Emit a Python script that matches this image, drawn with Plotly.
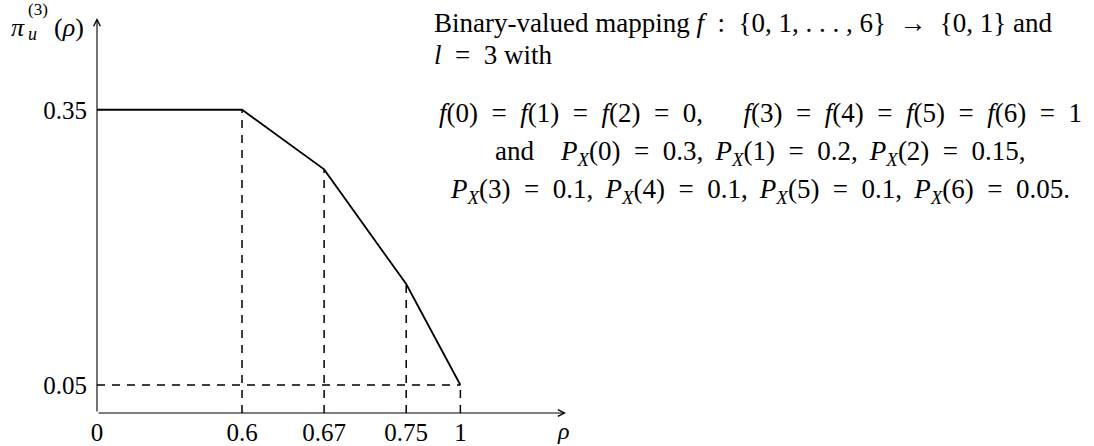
import plotly.graph_objects as go

# ---- data -------------------------------------------------------------
rho_ticktext = ["0", "0.6", "0.67", "0.75", "1"]          # x tick labels
rho_coord = [0.0, 2.65, 4.15, 5.65, 6.64]                 # diagram x-coordinate of each breakpoint (schematic axis)
pi_values = [0.35, 0.35, 0.285, 0.16, 0.05]               # pi_u^(3)(rho) at each breakpoint
y_tickvals = [0.35, 0.05]
y_ticktext = ["0.35", "0.05"]

X_MAX = 8.57          # end of the x arrow (diagram units)
Y_MIN = 0.0195        # level of the rho axis
Y_MAX = 0.45          # end of the y arrow

FONT = "Liberation Serif"
W, H = 1094, 446
# plot area in page pixels: x 97..566, y 18..413
L, T = 97, 18
R = W - 566
B = H - 413
PW, PH = 566 - 97, 413 - 18


def px(p):
    return (p - L) / PW


def py(p):
    return (413 - p) / PH


fig = go.Figure()

# dashed guide lines (vertical drops + horizontal level at the last value)
gx, gy = [], []
for xc, yv in zip(rho_coord[1:], pi_values[1:]):
    gx += [xc, xc, None]
    gy += [Y_MIN, yv, None]
gx += [rho_coord[0], rho_coord[-1]]
gy += [pi_values[-1], pi_values[-1]]
fig.add_trace(go.Scatter(x=gx, y=gy, mode="lines",
                         line=dict(color="black", width=1.5, dash="8px,7px"),
                         hoverinfo="skip", showlegend=False, cliponaxis=False))

# the piecewise-linear curve
fig.add_trace(go.Scatter(x=rho_coord, y=pi_values, mode="lines",
                         line=dict(color="black", width=1.8),
                         showlegend=False, cliponaxis=False))

# axes with arrows
arrow_common = dict(showarrow=True, arrowhead=5, arrowsize=1.2, arrowwidth=1.1,
                    arrowcolor="black", axref="x", ayref="y", xref="x", yref="y",
                    text="", standoff=0)
fig.add_annotation(x=X_MAX, y=Y_MIN, ax=0, ay=Y_MIN, **arrow_common)
fig.add_annotation(x=0, y=Y_MAX, ax=0, ay=Y_MIN, **arrow_common)


def label(xp, yp, text, size, anchor="center"):
    fig.add_annotation(x=px(xp), y=py(yp), xref="paper", yref="paper", text=text,
                       showarrow=False, font=dict(size=size),
                       xanchor=anchor, yanchor="middle")


# axis titles
label(563, 431, "<i>ρ</i>", 24)
label(18, 27, "<i>π</i>", 26)
label(32, 34, "<i>u</i>", 18)
label(38, 9, "(3)", 17)
label(69, 27, "(<i>ρ</i>)", 26)

# description text
E = "\u2002=\u2002"
PX = "<i>P</i><sub><i>X</i></sub>"
fi = "<i>f</i>"
label(432, 23, "Binary-valued mapping " + fi + "\u2002:\u2002{0, 1, . . . , 6}\u2002→\u2002{0, 1} and", 27, "left")
label(432, 55, "<i>l</i>" + E + "3 with", 27, "left")
label(760, 113, E.join([f"{fi}(0)", f"{fi}(1)", f"{fi}(2)", "0,\u2003\u2002" + f"{fi}(3)",
                        f"{fi}(4)", f"{fi}(5)", f"{fi}(6)", "1"]), 27)
label(760, 153, f"and\u2003{PX}(0){E}0.3,\u2009 {PX}(1){E}0.2,\u2009 {PX}(2){E}0.15,", 27)
label(760, 191, f"{PX}(3){E}0.1,\u2009 {PX}(4){E}0.1,\u2009 {PX}(5){E}0.1,\u2009 {PX}(6){E}0.05.", 27)

fig.update_xaxes(range=[0, X_MAX], showgrid=False, zeroline=False, showline=False,
                 tickmode="array", tickvals=rho_coord, ticktext=rho_ticktext,
                 ticks="", tickfont=dict(size=25), ticklabelstandoff=2)
fig.update_yaxes(range=[Y_MIN, Y_MAX], showgrid=False, zeroline=False, showline=False,
                 tickmode="array", tickvals=y_tickvals, ticktext=y_ticktext,
                 ticks="", tickfont=dict(size=25), ticklabelstandoff=9)

fig.update_layout(width=W, height=H, margin=dict(l=L, r=R, t=T, b=B, autoexpand=False),
                  paper_bgcolor="white", plot_bgcolor="white",
                  font=dict(family=FONT, color="black", size=24),
                  showlegend=False)

fig.write_html("out.html", config={"displayModeBar": False},
               post_script="document.body.style.margin='0';document.body.style.overflow='hidden';")
